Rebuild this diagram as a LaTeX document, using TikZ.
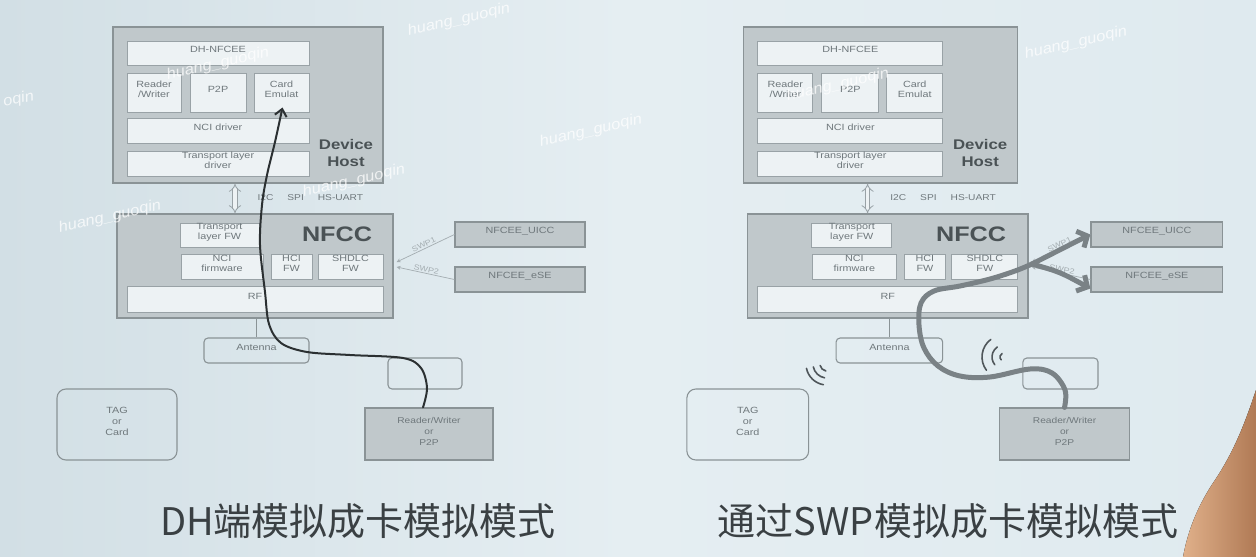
\documentclass[tikz,border=0pt]{standalone}
\usepackage{fontspec}
\setmainfont{Liberation Sans}
\newfontfamily\boxfont[FakeStretch=1.2]{Liberation Sans}
\newfontfamily\wmfont[FakeStretch=1.1]{Liberation Sans}
\newfontfamily\cjkfont{Noto Sans CJK SC}
\usetikzlibrary{fit,arrows.meta,calc}

\definecolor{bgA}{HTML}{D2DFE5}
\definecolor{bgB}{HTML}{E5EEF2}
\definecolor{bgC}{HTML}{DFEAEF}
\definecolor{boxgray}{HTML}{C0C8CB}
\definecolor{boxedge}{HTML}{8A9396}
\definecolor{inwhite}{HTML}{EDF2F4}
\definecolor{inedge}{HTML}{99A2A6}
\definecolor{labgray}{HTML}{6F787C}
\definecolor{darklab}{HTML}{4A5255}
\definecolor{lightline}{HTML}{A4ADB1}
\definecolor{pathblack}{HTML}{2B3032}
\definecolor{pathgray}{HTML}{7A8286}
\definecolor{titlecol}{HTML}{3A4043}
\definecolor{wavecol}{HTML}{4F565A}
\definecolor{skinA}{HTML}{E0B08A}
\definecolor{skinB}{HTML}{B07A55}

\tikzset{
  outerbox/.style={draw=boxedge, fill=boxgray, line width=1.3pt, inner sep=0pt},
  innerbox/.style={draw=inedge, fill=inwhite, line width=1pt, inner sep=0pt, align=center, text=labgray, font=\boxfont\fontsize{9}{10}\selectfont},
  greybox/.style={innerbox, draw=boxedge, fill=boxgray, line width=1.2pt},
  roundbox/.style={innerbox, draw=boxedge, fill=none, rounded corners=4pt, line width=1.1pt, font=\boxfont\fontsize{9}{11}\selectfont},
  biglabel/.style={text=darklab, align=center, font=\boxfont\bfseries\fontsize{14}{17}\selectfont},
  nfcclabel/.style={text=darklab, font=\boxfont\bfseries\fontsize{21}{22}\selectfont},
  smalltext/.style={text=labgray, font=\boxfont\fontsize{8.5}{9}\selectfont},
  swptext/.style={text=lightline, font=\boxfont\fontsize{7.5}{8}\selectfont, inner sep=1pt},
  swp/.style={draw=lightline, line width=0.7pt, {Stealth[length=4pt,width=4pt]}-},
  hollow/.style={draw=inedge, double=inwhite, double distance=3.5pt, line width=0.8pt, {Implies}-{Implies}},
  conn/.style={draw=boxedge, line width=1.1pt},
  blackpath/.style={draw=pathblack, line width=2pt, line cap=round, line join=round, -{Straight Barb[length=7pt,width=12pt]}},
  graypath/.style={draw=pathgray, line width=5pt, line cap=round, line join=round},
  grayarrow/.style={graypath, -{Straight Barb[length=8pt,width=18pt]}},
  wave/.style={draw=wavecol, line width=1.6pt, line cap=round},
  watermark/.style={text=white, opacity=0.75, font=\wmfont\itshape\fontsize{15}{16}\selectfont, rotate=13},
  titletext/.style={text=titlecol, font=\cjkfont\fontsize{38}{40}\selectfont},
}

\newcommand\nfcdiagram[1]{%
  \node[outerbox, fit={(113,27)(383,183)}] (#1dh) {};
  \node[innerbox, fit={(127,41)(309,65)}] (#1nfcee) {DH-NFCEE};
  \node[innerbox, fit={(127,73)(181,112)}] (#1rw) {Reader\\/Writer};
  \node[innerbox, fit={(190,73)(246,112)}] (#1p2p) {P2P};
  \node[innerbox, fit={(254,73)(309,112)}] (#1ce) {Card\\Emulat};
  \node[innerbox, fit={(127,118)(309,143)}] (#1ncid) {NCI driver};
  \node[innerbox, fit={(127,151)(309,176)}] (#1tld) {Transport layer\\driver};
  \node[biglabel] (#1dhlab) at (346,153) {Device\\Host};
  \node[outerbox, fit={(117,214)(393,318)}] (#1nfcc) {};
  \node[innerbox, fit={(180,223)(259,247)}] (#1tlfw) {Transport\\layer FW};
  \node[innerbox, fit={(181,254)(263,279)}] (#1ncifw) {NCI\\firmware};
  \node[innerbox, fit={(271,254)(312,279)}] (#1hci) {HCI\\FW};
  \node[innerbox, fit={(318,254)(383,279)}] (#1shdlc) {SHDLC\\FW};
  \node[innerbox, fit={(127,286)(383,312)}] (#1rf) {RF};
  \node[nfcclabel] (#1nfcclab) at (337,234) {NFCC};
  \coordinate (#1io) at (235,198);
  \draw[hollow] (#1io |- #1dh.south) -- (#1io |- #1nfcc.north);
  \node[smalltext, anchor=west] (#1bus) at (254,198) {I2C\hspace{14pt}SPI\hspace{14pt}HS-UART};
  \node[greybox, fit={(455,222)(585,247)}] (#1uicc) {NFCEE\_UICC};
  \node[greybox, fit={(455,267)(585,292)}] (#1ese) {NFCEE\_eSE};
  \coordinate (#1s1) at ($(#1nfcc.east)+(3,-4)$);
  \coordinate (#1s2) at ($(#1nfcc.east)+(3,1)$);
  \draw[swp] (#1s1) -- node[sloped, above, swptext] (#1swpa) {SWP1} (#1uicc.west);
  \draw[swp] (#1s2) -- node[sloped, above, swptext] (#1swpb) {SWP2} (#1ese.west);
  \node[roundbox, fit={(204,338)(309,363)}] (#1ant) {Antenna};
  \draw[conn] (#1nfcc.south -| #1ant.north) -- (#1ant.north);
  \node[roundbox, fit={(388,358)(462,389)}] (#1sbox) {};
  \node[greybox, fit={(365,408)(493,460)}, font=\boxfont\fontsize{8.5}{11}\selectfont] (#1rwp) {Reader/Writer\\or\\P2P};
  \node[roundbox, rounded corners=9pt, fit={(57,389)(177,460)}] (#1tag) {TAG\\or\\Card};
}

\begin{document}
\begin{tikzpicture}[x=1pt,y=-1pt]
\useasboundingbox (0,0) rectangle (1256,557);
\shade[left color=bgA, right color=bgC, middle color=bgB] (0,0) rectangle (1256,557);

\begin{scope}
  \nfcdiagram{L}
\end{scope}
\begin{scope}[xshift=629pt, xscale=1.015]
  \nfcdiagram{R}
\end{scope}

% watermarks
\node[watermark] (wm1) at (459,20) {huang\_guoqin};
\node[watermark] (wm2) at (218,64) {huang\_guoqin};
\node[watermark, anchor=west] (wm3) at (0,104) {oqin};
\node[watermark] (wm4) at (591,131) {huang\_guoqin};
\node[watermark] (wm5) at (354,181) {huang\_guoqin};
\node[watermark] (wm6) at (110,217) {huang\_guoqin};
\node[watermark] (wm7) at (1076,43) {huang\_guoqin};
\node[watermark] (wm8) at (838,85) {huang\_guoqin};

% left: black path from reader to card emulation
\coordinate (Lstart) at ($(Lrwp.north)+(-6,0)$);
\coordinate (Lend) at ($(Lce.south)+(1,-5)$);
\draw[blackpath] plot[smooth, tension=0.55] coordinates {(Lstart) (427,388) (421,368) (403,358) (350,355) (307,352) (281,343) (269,324) (265,292) (260,245) (262,205) (267,175) (275,142) (Lend)};

% right: thick gray path via SWP
\coordinate (Rsplit) at (1032,264);
\coordinate (Reseend) at ($(Rese.west)+(0,9)$);
\draw[graypath] plot[smooth, tension=0.6] coordinates {(Rrwp.north) (1065,390) (1052,373) (1030,369) (990,377) (960,376) (938,366) (924,348) (919,325) (921,303) (934,291) (960,286) (990,279) (1015,271) (Rsplit)};
\draw[grayarrow] (Rsplit) .. controls (1058,250) .. (Ruicc.west);
\draw[grayarrow] (Rsplit) .. controls (1060,272) .. (Reseend);

% wave symbols
\coordinate (wv1) at (1004,357);
\draw[wave] ($(wv1)+(143:22)$) arc[start angle=143, end angle=233, radius=22];
\draw[wave] ($(wv1)+(140:12)$) arc[start angle=140, end angle=236, radius=12];
\draw[wave] ($(wv1)+(135:4)$) arc[start angle=135, end angle=241, radius=4];
\coordinate (wv2) at (827,364);
\draw[wave] ($(wv2)+(100:21)$) arc[start angle=100, end angle=168, radius=21];
\draw[wave] ($(wv2)+(100:14)$) arc[start angle=100, end angle=168, radius=14];
\draw[wave] ($(wv2)+(100:7)$) arc[start angle=100, end angle=168, radius=7];

% titles
\node[titletext] (t1) at (358,521) {DH端模拟成卡模拟模式};
\node[titletext] (t2) at (948,521) {通过SWP模拟成卡模拟模式};

% shoulder of the presenter
\fill[left color=skinA, right color=skinB] (1256,390) .. controls (1246,420) and (1235,450) .. (1215,480) .. controls (1198,505) and (1188,530) .. (1183,557) -- (1256,557) -- cycle;
\end{tikzpicture}
\end{document}
